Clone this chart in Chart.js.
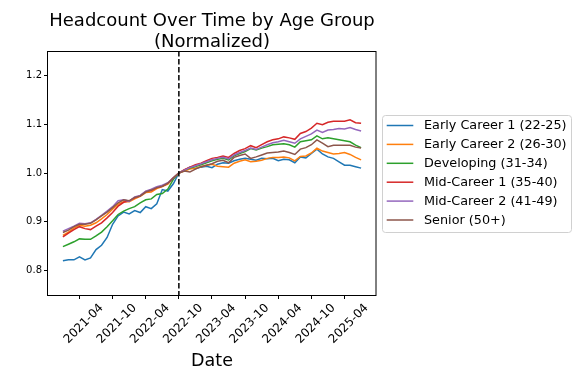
<!DOCTYPE html>
<html><head><meta charset="utf-8">
<script src="https://cdn.jsdelivr.net/npm/chart.js@4"></script>
<style>html,body{margin:0;padding:0;background:#fff}canvas{display:block}</style>
</head><body>
<canvas id="c" width="579" height="383" style="width:579px;height:383px"></canvas>
<script>
const dates = ['2021-01','2021-02','2021-03','2021-04','2021-05','2021-06','2021-07','2021-08','2021-09','2021-10','2021-11','2021-12',
'2022-01','2022-02','2022-03','2022-04','2022-05','2022-06','2022-07','2022-08','2022-09','2022-10','2022-11','2022-12',
'2023-01','2023-02','2023-03','2023-04','2023-05','2023-06','2023-07','2023-08','2023-09','2023-10','2023-11','2023-12',
'2024-01','2024-02','2024-03','2024-04','2024-05','2024-06','2024-07','2024-08','2024-09','2024-10','2024-11','2024-12',
'2025-01','2025-02','2025-03','2025-04','2025-05','2025-06','2025-07'];
const tickLabels = ['2021-04','2021-10','2022-04','2022-10','2023-04','2023-10','2024-04','2024-10','2025-04'];
const refDate = '2022-10';
const yTicks = [0.8, 0.9, 1.0, 1.1, 1.2];
const seriesNames = ['Early Career 1 (22-25)','Early Career 2 (26-30)','Developing (31-34)','Mid-Career 1 (35-40)','Mid-Career 2 (41-49)','Senior (50+)'];
const earlyCareer1 = [0.820,0.822,0.822,0.828,0.822,0.826,0.843,0.852,0.868,0.895,0.912,0.920,0.916,0.923,0.919,0.931,0.927,0.937,0.966,0.963,0.978,
1.000,1.006,1.012,1.009,1.012,1.014,1.011,1.018,1.021,1.020,1.025,1.028,1.030,1.028,1.026,1.030,1.029,1.030,1.025,1.028,1.027,1.021,1.033,1.031,1.040,1.049,1.039,1.033,1.030,1.023,1.016,1.016,1.013,1.010];
const earlyCareer2 = [0.872,0.879,0.887,0.893,0.891,0.893,0.898,0.906,0.915,0.926,0.936,0.941,0.941,0.947,0.952,0.960,0.961,0.968,0.972,0.977,0.989,
1.000,1.004,1.008,1.010,1.013,1.016,1.018,1.014,1.013,1.012,1.020,1.024,1.027,1.023,1.024,1.026,1.030,1.032,1.032,1.033,1.031,1.025,1.034,1.035,1.041,1.051,1.045,1.042,1.039,1.040,1.042,1.038,1.032,1.027];
const developing = [0.849,0.854,0.859,0.865,0.864,0.864,0.871,0.879,0.890,0.902,0.915,0.922,0.927,0.931,0.939,0.945,0.947,0.956,0.958,0.967,0.987,
1.000,1.006,1.010,1.013,1.017,1.021,1.025,1.028,1.030,1.027,1.035,1.040,1.044,1.050,1.047,1.051,1.054,1.058,1.059,1.060,1.058,1.053,1.064,1.066,1.068,1.076,1.070,1.072,1.070,1.068,1.066,1.064,1.057,1.052];
const midCareer1 = [0.869,0.877,0.884,0.890,0.886,0.884,0.891,0.898,0.908,0.919,0.932,0.940,0.943,0.949,0.953,0.962,0.964,0.970,0.973,0.979,0.990,
1.000,1.007,1.012,1.017,1.020,1.025,1.030,1.032,1.035,1.032,1.040,1.046,1.050,1.056,1.052,1.058,1.064,1.068,1.070,1.074,1.072,1.069,1.081,1.085,1.092,1.102,1.099,1.104,1.106,1.106,1.106,1.109,1.103,1.102];
const midCareer2 = [0.881,0.886,0.891,0.897,0.896,0.898,0.905,0.913,0.922,0.931,0.943,0.945,0.942,0.951,0.954,0.963,0.967,0.972,0.975,0.980,0.990,
1.000,1.006,1.011,1.015,1.019,1.023,1.027,1.030,1.032,1.029,1.037,1.042,1.046,1.051,1.048,1.053,1.058,1.062,1.064,1.067,1.064,1.061,1.070,1.075,1.080,1.088,1.083,1.088,1.089,1.091,1.090,1.093,1.089,1.086];
const senior = [0.878,0.883,0.890,0.895,0.895,0.897,0.904,0.912,0.920,0.929,0.939,0.945,0.943,0.950,0.953,0.961,0.965,0.970,0.973,0.979,0.990,
1.000,1.004,1.002,1.008,1.013,1.016,1.019,1.024,1.026,1.021,1.032,1.036,1.039,1.030,1.033,1.037,1.041,1.042,1.043,1.045,1.042,1.038,1.049,1.052,1.058,1.068,1.061,1.054,1.057,1.057,1.057,1.057,1.053,1.051];
const colors = ['#1f77b4','#ff7f0e','#2ca02c','#d62728','#9467bd','#8c564b'];

const FONT = '"DejaVu Sans", "Liberation Sans", sans-serif';
const allSeries = [earlyCareer1, earlyCareer2, developing, midCareer1, midCareer2, senior];
const datasets = allSeries.map((vals, k) => ({
  label: seriesNames[k],
  data: vals.map((v, i) => ({x: i, y: v})),
  borderColor: colors[k],
  backgroundColor: colors[k],
  borderWidth: 1.5,
  pointRadius: 0,
  tension: 0,
  fill: false,
  order: allSeries.length - 1 - k
}));
const n = dates.length - 1;

const decor = {
  id: 'decor',
  afterDatasetsDraw(chart) {
    const ctx = chart.ctx, a = chart.chartArea, xs = chart.scales.x;
    ctx.save();
    // reference dashed line
    const xr = xs.getPixelForValue(dates.indexOf(refDate));
    ctx.strokeStyle = '#000'; ctx.lineWidth = 1.5; ctx.setLineDash([5.5, 2.5]);
    ctx.beginPath(); ctx.moveTo(xr, a.top); ctx.lineTo(xr, a.bottom); ctx.stroke();
    ctx.setLineDash([]);
    // frame
    ctx.lineWidth = 1; ctx.strokeStyle = '#000';
    ctx.strokeRect(a.left - 0.5, a.top + 0.5, a.right - a.left + 0.5, a.bottom - a.top);
    // title
    const cx = (a.left + a.right) / 2;
    ctx.fillStyle = '#000'; ctx.textAlign = 'center'; ctx.textBaseline = 'alphabetic';
    ctx.font = '18px ' + FONT;
    ctx.fillText('Headcount Over Time by Age Group', cx, 26);
    ctx.fillText('(Normalized)', cx, 46.5);
    ctx.font = '17.5px ' + FONT;
    ctx.fillText('Date', cx, 366);
    // legend
    const lx = 382.5, ly = 115.5, lw = 189, lh = 117;
    ctx.beginPath();
    ctx.roundRect(lx, ly, lw, lh, 3);
    ctx.fillStyle = 'rgba(255,255,255,0.8)'; ctx.fill();
    ctx.strokeStyle = '#d0d0d0'; ctx.lineWidth = 1; ctx.stroke();
    ctx.font = '12.8px ' + FONT; ctx.textAlign = 'left'; ctx.textBaseline = 'middle';
    chart.data.datasets.forEach((ds, k) => {
      const y = 125.5 + 18.9 * k;
      ctx.strokeStyle = ds.borderColor; ctx.lineWidth = 1.5;
      ctx.beginPath(); ctx.moveTo(386.7, y); ctx.lineTo(413.3, y); ctx.stroke();
      ctx.fillStyle = '#000';
      ctx.fillText(ds.label, 424, y + 0.5);
    });
    ctx.restore();
  }
};

new Chart(document.getElementById('c'), {
  type: 'line',
  data: { datasets },
  options: {
    responsive: false,
    animation: false,
    devicePixelRatio: 1,
    layout: { padding: { top: 51, right: 203, left: 0, bottom: 0 } },
    plugins: { legend: { display: false }, title: { display: false }, tooltip: { enabled: false } },
    scales: {
      x: {
        type: 'linear',
        min: -0.05 * n,
        max: n * 1.05,
        afterBuildTicks: s => { s.ticks = tickLabels.map(l => ({ value: dates.indexOf(l) })); },
        afterFit: s => { s.height = 88; },
        grid: { drawOnChartArea: false, drawTicks: true, tickLength: 4, tickColor: '#000', tickWidth: 1 },
        border: { display: false },
        ticks: {
          autoSkip: false, maxRotation: 45, minRotation: 45,
          labelOffset: 22, padding: 2,
          color: '#000', font: { family: FONT, size: 12 },
          callback: v => dates[Math.round(v)]
        }
      },
      y: {
        min: 0.75, max: 1.25,
        afterBuildTicks: s => { s.ticks = yTicks.map(v => ({ value: v })); },
        afterFit: s => { s.width = 48; },
        grid: { drawOnChartArea: false, drawTicks: true, tickLength: 4, tickColor: '#000', tickWidth: 1 },
        border: { display: false },
        ticks: { color: '#000', padding: 2, font: { family: FONT, size: 10 }, callback: v => v.toFixed(1) }
      }
    }
  },
  plugins: [decor]
});
</script>
</body></html>
